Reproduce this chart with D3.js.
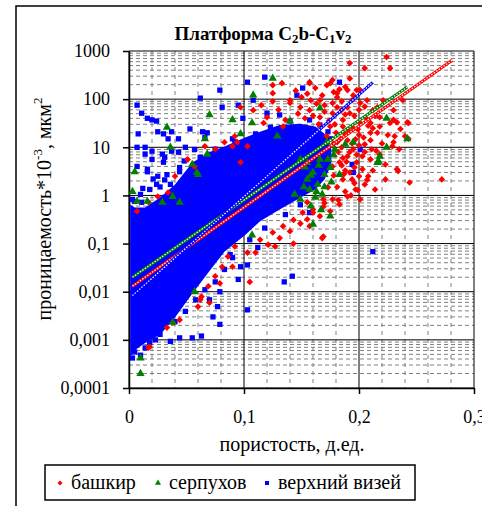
<!DOCTYPE html>
<html lang="ru">
<head>
<meta charset="utf-8">
<title>Платформа C2b-C1v2</title>
<script src="https://d3js.org/d3.v7.min.js"></script>
<style>
  body { margin: 0; background: #fff; }
  svg text { font-family: "Liberation Serif", "Times New Roman", serif; fill: black; }
</style>
</head>
<body>
<div class="chart"></div>
<script>
// series
const seriesNames = ["башкир", "серпухов", "верхний визей"];
const seriesColors = ["#ff0000", "#008000", "#0000ff"];

// axes
const xTicks = [0, 0.1, 0.2, 0.3];
const xTickLabels = ["0", "0,1", "0,2", "0,3"];
const yTicks = [0.0001, 0.001, 0.01, 0.1, 1, 10, 100, 1000];
const yTickLabels = ["0,0001", "0,001", "0,01", "0,1", "1", "10", "100", "1000"];

// [porosity, permeability]
const bashkirPoints = [
  [0.224,750],[0.227,440],[0.192,560],[0.205,440],[0.238,95],[0.242,33],[0.230,37],[0.231,17],[0.240,17],
  [0.235,9.1],[0.229,10.5],[0.233,3.5],[0.244,1.86],[0.272,2.15],[0.208,2.5],[0.168,0.13],[0.127,0.087],
  [0.143,0.1],[0.105,0.016],[0.110,0.065],[0.133,215],[0.157,215],[0.175,215],[0.181,110],[0.192,270],
  [0.198,154],[0.177,83],[0.190,68],[0.216,68],[0.218,42],[0.210,32],[0.216,20],[0.230,12.7],[0.236,24],
  [0.243,15],[0.125,133],[0.172,195],[0.181,133],[0.140,83],[0.149,68],[0.157,59],[0.166,42],[0.181,68],
  [0.108,59],[0.120,42],[0.136,37],[0.134,27],[0.117,32],[0.097,68],[0.186,27],[0.175,27],[0.172,17],
  [0.181,12.7],[0.094,12.7],[0.150,110],[0.201,83],[0.207,95],[0.212,59],[0.221,95],[0.230,59],[0.201,154],
  [0.190,154],[0.177,250],[0.166,95],[0.192,51],
  [0.177,51],[0.186,37],[0.201,32],[0.210,20],[0.218,27],[0.227,32],[0.233,33],[0.243,32],[0.211,9.1],
  [0.234,3.2],[0.177,4.0],[0.183,4.9],[0.190,6.5],[0.195,9.1],[0.198,4.9],[0.203,6.5],[0.192,3.0],
  [0.186,2.15],[0.181,1.5],[0.177,0.83],[0.169,0.83],[0.155,0.72],[0.160,0.51],[0.166,0.37],[0.155,0.32],
  [0.157,0.23],[0.169,0.14],[0.188,18.6],[0.197,14.6],[0.205,11.5],[0.199,23.6],[0.210,5.6],[0.218,7.2],
  [0.223,4.4],[0.205,1.69],[0.197,1.33],[0.190,0.95],[0.183,0.65],[0.175,0.47],[0.201,0.83],[0.214,1.33],
  [0.223,2.15],[0.194,2.15],[0.203,3.5],[0.188,3.3],[0.173,1.47],
  [0.145,150],[0.155,130],[0.162,170],[0.168,120],[0.170,75],[0.163,80],[0.158,95],[0.185,90],[0.188,180],
  [0.195,120],[0.183,160],[0.178,140],[0.194,95],[0.200,60],[0.205,70],[0.196,45],[0.188,48],[0.170,55],
  [0.160,45],[0.153,40],[0.147,50],[0.130,60],[0.125,90],[0.115,75],[0.185,60],[0.174,36],[0.165,30],[0.179,30],
  [0.180,20],[0.185,10],[0.190,14],[0.195,25],[0.200,18],[0.205,8],[0.210,14],[0.200,11],[0.192,8],
  [0.186,6],[0.182,8],[0.178,12],[0.196,3.8],[0.200,2.5],[0.207,2.1],[0.212,3.3],[0.215,8.5],[0.220,12],
  [0.225,18],[0.212,25],[0.206,40],[0.196,1.8],[0.188,1.2],[0.182,0.8],[0.178,2.6],[0.185,4.2],[0.193,1.0],[0.170,0.7],
  [0.184,15],[0.191,22],[0.198,7],[0.204,16],[0.208,28],[0.214,45],[0.189,5],[0.194,12],[0.187,2.8],[0.199,1.3],
  [0.070,0.0059],[0.062,0.0068],[0.079,0.015],[0.090,0.033],[0.103,0.065],[0.114,0.12],[0.125,0.17],
  [0.134,0.23],[0.143,0.31],[0.151,0.44],[0.160,0.44],[0.169,0.58],[0.044,0.0026],[0.038,0.0023],
  [0.033,0.0018],[0.018,0.00072],[0.017,0.00069],[0.086,0.054],[0.081,0.033],[0.075,0.021],[0.069,0.013],
  [0.063,0.0079],[0.060,0.0049],[0.092,0.087],[0.121,0.095],[0.140,0.18],[0.149,0.26],[0.131,0.13],
  [0.007,0.47],[0.097,4.9],[0.103,10.5],[0.090,10.5],[0.051,5.6],[0.057,4.0],[0.066,10.5],[0.075,9.1],
  [0.083,12.7],[0.092,17],[0.040,2.5],[0.034,1.15],[0.025,0.95],[0.017,0.72],[0.125,195],[0.157,225],[0.140,95]
];

const serpukhovPoints = [
  [0.010,0.00042],[0.010,0.0002],[0.003,1.2],[0.005,3.1],[0.007,0.75],[0.070,47],[0.108,121],[0.125,270],
  [0.090,37],[0.107,32],[0.033,26],[0.036,10],[0.055,4.4],[0.060,2.7],[0.038,0.95],[0.029,0.72],
  [0.140,35],[0.166,65],[0.129,17],
  [0.172,12.7],[0.195,12.7],[0.224,10],[0.242,15],[0.217,5.1],[0.175,0.37],[0.166,5.6],[0.155,2.15],
  [0.160,3.0],[0.218,6.5],[0.224,40],[0.216,4.8],[0.160,0.25],[0.149,5.6],[0.153,3.9],[0.157,1.33],
  [0.164,1.69],[0.170,2.7],[0.175,3.8],[0.168,1.05],[0.162,0.91],[0.149,0.83],[0.144,1.05],[0.173,5.6],
  [0.179,9.1],[0.183,2.7],[0.188,11.5],
  [0.152,1.5],[0.158,2.6],[0.165,4.2],[0.170,1.5],[0.176,1.9],[0.163,1.2],[0.155,4.8],[0.178,7],[0.158,0.6],[0.167,0.5],
  [0.038,0.0023],[0.107,0.15],[0.057,0.01],[0.016,0.75],[0.044,0.72],[0.059,3.0],[0.068,7.2],[0.066,15],[0.097,19]
];

const vizeyPoints = [
  [0.007,75],[0.011,51],[0.016,40],[0.020,37],[0.024,35],[0.025,21],[0.030,19],[0.034,15],[0.037,21],
  [0.043,15],[0.053,24],[0.064,21],[0.066,16],[0.008,19],[0.079,154],[0.062,105],[0.081,68],[0.007,10],
  [0.014,7.2],[0.020,8.3],[0.020,5.6],[0.029,7.2],[0.030,4.9],[0.037,8.3],[0.043,7.9],[0.044,3.8],
  [0.007,4.0],[0.016,3.1],[0.025,2.5],[0.033,2.7],[0.036,1.7],[0.024,1.7],[0.027,1.5],[0.043,1.5],
  [0.005,0.75],[0.011,0.72],[0.040,0.83],[0.047,0.95],[0.057,9],[0.103,225],[0.118,286],[0.183,225],
  [0.108,95],[0.068,20],[0.049,10],[0.016,3.5],[0.031,6.2],[0.003,0.83],[0.053,0.95],[0.060,4.0],
  [0.075,5.6],[0.090,15],[0.095,75],[0.099,40],[0.120,51],[0.131,47],[0.151,170],[0.146,121],
  [0.014,10],[0.057,3.5],[0.012,1.4],[0.021,2.2],[0.048,5.2],
  [0.212,0.068],[0.142,0.021],[0.135,0.016],[0.103,0.0042],[0.079,0.0021],[0.077,0.0049],[0.073,0.003],
  [0.063,0.0012],[0.055,0.0011],[0.044,0.0011],[0.036,0.00093],[0.079,0.01],[0.095,0.018],[0.097,0.033],
  [0.103,0.036],[0.112,0.083],[0.083,0.029],[0.070,0.0068],[0.090,0.051],[0.201,9.1],[0.194,4.4],
  [0.195,3.0],[0.156,1.47],[0.157,0.44],[0.010,0.00048],
  [0.088,0.059],[0.105,0.12],[0.118,0.21],[0.136,0.4],[0.149,0.64],[0.058,0.0068],[0.049,0.0039],
  [0.040,0.0024],[0.027,0.0013],[0.018,0.00087],[0.005,0.00056],[0.003,0.00042],[0.014,0.00068],
  [0.023,0.001],[0.075,0.016],[0.066,0.011],
  [0.010,1.05],[0.018,1.33],[0.031,2.1],[0.044,3.1],[0.062,6.2],[0.075,9.1],[0.092,13],[0.110,19],
  [0.123,26],[0.140,35],[0.157,37],[0.166,29],[0.173,21],[0.175,15],[0.170,8.3],[0.162,5.6],[0.164,3.5],[0.157,2.4]
];

// the solid blue mass of верхний визей: porosity, lower and upper edge of the cloud
const vizeyCoreX    = [0.001, 0.005, 0.014, 0.027, 0.040, 0.055, 0.069, 0.083, 0.101, 0.114, 0.131, 0.149, 0.162, 0.170, 0.176];
const vizeyCoreLow  = [0.00044, 0.00061, 0.00086, 0.00127, 0.0029, 0.0091, 0.025, 0.068, 0.15, 0.29, 0.51, 0.9, 1.33, 2.15, 4.4];
const vizeyCoreHigh = [0.65, 0.56, 0.56, 0.91, 1.69, 4.8, 7.8, 10.4, 16, 21, 29, 31, 27, 19, 9.1];

// trend lines, start and end point of each
const bashkirTrend   = [[0.003, 0.013], [0.281, 645]];
const serpukhovTrend = [[0.003, 0.020], [0.242, 178]];
const vizeyTrend     = [[0.003, 0.0083], [0.212, 224]];

const width = 482, height = 506;
const plot = {left: 129, right: 474, top: 51, bottom: 388};

const svg = d3.select('.chart')
  .append('svg')
  .attr('width', width)
  .attr('height', height);

svg.append('rect')
  .attr('x', 16).attr('y', 6)
  .attr('width', 500).attr('height', 540)
  .attr('fill', 'white')
  .attr('stroke', 'black')
  .attr('stroke-width', 1.5);

const x = d3.scaleLinear().domain([0, 0.3]).range([plot.left, plot.right]);
const y = d3.scaleLog().domain([0.0001, 1000]).range([plot.bottom, plot.top]);

// minor grid
const minorX = d3.range(1, 15).map(i => i * 0.02).filter(v => Math.abs(v * 10 - Math.round(v * 10)) > 1e-6);
const minorY = [];
yTicks.slice(0, -1).forEach(t => { for (let k = 2; k <= 9; k++) minorY.push(t * k); });

const grid = svg.append('g').attr('class', 'grid');
grid.selectAll('.minor-x').data(minorX).enter().append('line')
  .attr('x1', d => x(d)).attr('x2', d => x(d))
  .attr('y1', plot.top).attr('y2', plot.bottom)
  .attr('stroke', '#808080').attr('stroke-dasharray', '4,4');
grid.selectAll('.minor-y').data(minorY).enter().append('line')
  .attr('x1', plot.left).attr('x2', plot.right)
  .attr('y1', d => y(d)).attr('y2', d => y(d))
  .attr('stroke', '#808080').attr('stroke-dasharray', '4,3');
grid.selectAll('.major-x').data(xTicks).enter().append('line')
  .attr('x1', d => x(d)).attr('x2', d => x(d))
  .attr('y1', plot.top).attr('y2', plot.bottom)
  .attr('stroke', 'black');
grid.selectAll('.major-y').data(yTicks).enter().append('line')
  .attr('x1', plot.left).attr('x2', plot.right)
  .attr('y1', d => y(d)).attr('y2', d => y(d))
  .attr('stroke', 'black');

// axes
const yAxis = svg.append('g')
  .attr('transform', `translate(${plot.left},0)`)
  .call(d3.axisLeft(y).tickValues(yTicks).tickFormat((d, i) => yTickLabels[i]).tickSizeOuter(0).tickSizeInner(6).tickPadding(13));
const xAxis = svg.append('g')
  .attr('transform', `translate(0,${plot.bottom})`)
  .call(d3.axisBottom(x).tickValues(xTicks).tickFormat((d, i) => xTickLabels[i]).tickSizeOuter(0).tickSizeInner(6).tickPadding(16));
[xAxis, yAxis].forEach(a => {
  a.select('.domain').attr('stroke', 'black').attr('stroke-width', 1.5);
  a.selectAll('line').attr('stroke', 'black').attr('stroke-width', 1.5);
  a.selectAll('text').attr('font-size', 18);
});

// blue core
const coreData = vizeyCoreX.map((v, i) => ({x: v, lo: vizeyCoreLow[i], hi: vizeyCoreHigh[i]}));
svg.append('path')
  .datum(coreData)
  .attr('fill', seriesColors[2])
  .attr('d', d3.area().x(d => x(d.x)).y0(d => y(d.lo)).y1(d => y(d.hi)));

const symbols = [d3.symbolDiamond2, d3.symbolTriangle, d3.symbolSquare];
const sizes = [28, 30, 28];
const pointSets = [vizeyPoints, bashkirPoints, serpukhovPoints];
const setIdx = [2, 0, 1];
pointSets.forEach((pts, j) => {
  const i = setIdx[j];
  svg.append('g').selectAll('path')
    .data(pts)
    .enter()
    .append('path')
    .attr('transform', d => `translate(${x(d[0])},${y(d[1])})`)
    .attr('d', d3.symbol().type(symbols[i]).size(sizes[i]))
    .attr('fill', seriesColors[i]);
});

// trend lines
const trendLine = d3.line().x(d => x(d[0])).y(d => y(d[1]));
[[bashkirTrend, 0], [serpukhovTrend, 1], [vizeyTrend, 2]].forEach(([t, i]) => {
  svg.append('path').attr('d', trendLine(t))
    .attr('fill', 'none').attr('stroke', seriesColors[i]).attr('stroke-width', 3);
  svg.append('path').attr('d', trendLine(t))
    .attr('fill', 'none').attr('stroke', 'white').attr('stroke-width', 1.2)
    .attr('stroke-dasharray', '1.5,1.5');
});

// title
const title = svg.append('text')
  .attr('x', 263).attr('y', 40)
  .attr('text-anchor', 'middle')
  .attr('font-weight', 'bold')
  .attr('font-size', 19);
title.append('tspan').text('Платформа C');
title.append('tspan').attr('font-size', 13).attr('dy', 3).text('2');
title.append('tspan').attr('dy', -3).text('b-C');
title.append('tspan').attr('font-size', 13).attr('dy', 3).text('1');
title.append('tspan').attr('dy', -3).text('v');
title.append('tspan').attr('font-size', 13).attr('dy', 3).text('2');

// axis titles
svg.append('text')
  .attr('x', 292).attr('y', 451)
  .attr('text-anchor', 'middle')
  .attr('font-size', 20)
  .text('пористость, д.ед.');

const yTitle = svg.append('text')
  .attr('transform', 'translate(51,209) rotate(-90)')
  .attr('text-anchor', 'middle')
  .attr('font-size', 20);
yTitle.append('tspan').text('проницаемость*10');
yTitle.append('tspan').attr('font-size', 13).attr('dy', -9).text('-3');
yTitle.append('tspan').attr('dy', 9).text(', мкм');
yTitle.append('tspan').attr('font-size', 13).attr('dy', -9).text('2');

// legend
const legend = svg.append('g');
legend.append('rect')
  .attr('x', 45).attr('y', 465).attr('width', 370).attr('height', 35)
  .attr('fill', 'white').attr('stroke', 'black').attr('stroke-width', 1.5);
const legendX = [60, 158, 267];
seriesNames.forEach((name, i) => {
  legend.append('path')
    .attr('transform', `translate(${legendX[i]},483)`)
    .attr('d', d3.symbol().type(symbols[i]).size(16))
    .attr('fill', seriesColors[i]);
  legend.append('text')
    .attr('x', legendX[i] + 11).attr('y', 489)
    .attr('font-size', 20)
    .text(name);
});
</script>
</body>
</html>
